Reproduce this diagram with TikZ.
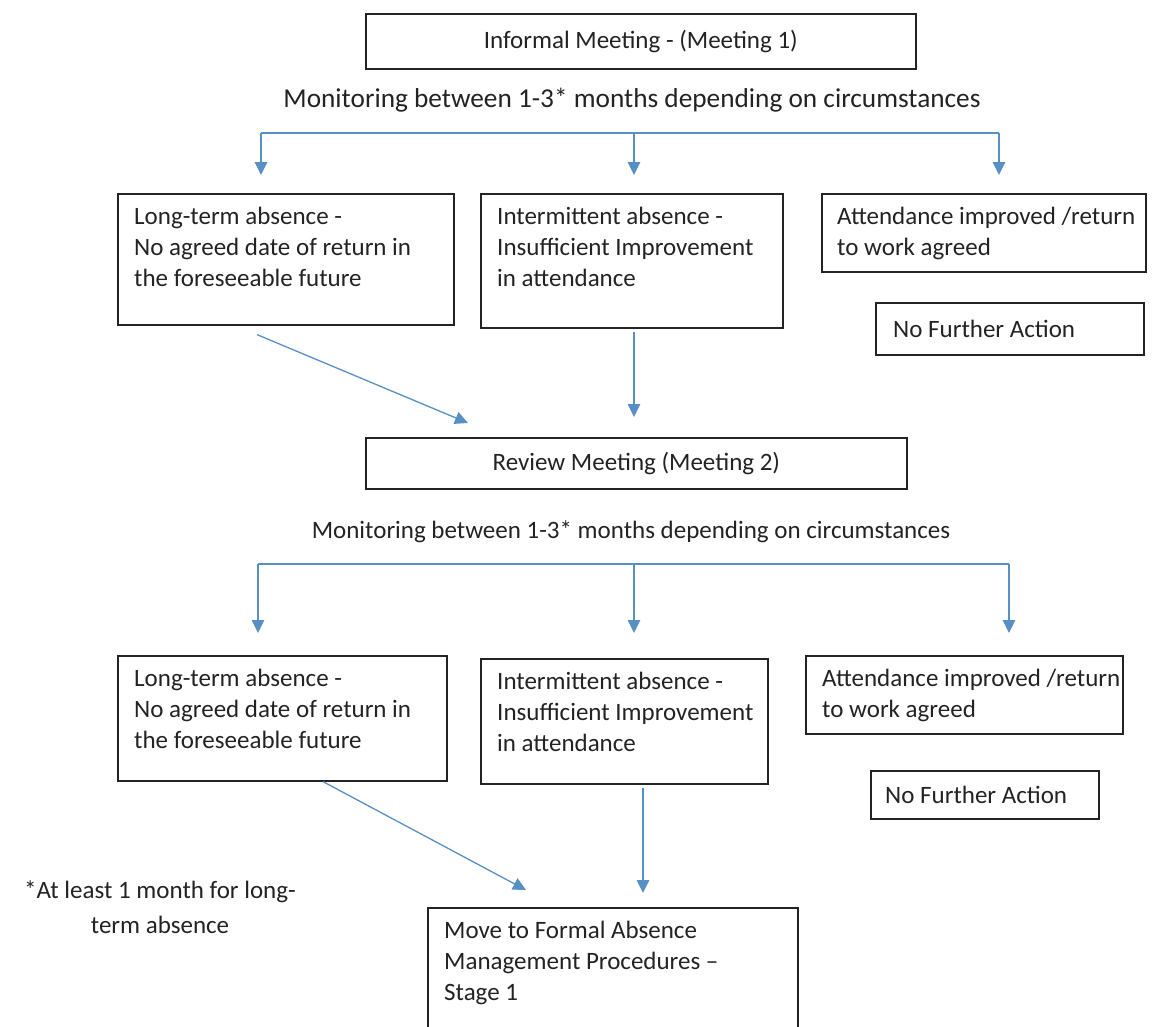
\documentclass[tikz,border=0pt]{standalone}
\usepackage{fontspec}
\setmainfont{Carlito}
\usepackage{xcolor}
\usetikzlibrary{positioning}
\usetikzlibrary{arrows.meta}
\usetikzlibrary{calc}
\usetikzlibrary{math}

\definecolor{flowblue}{RGB}{88,143,196}
\definecolor{inkgray}{RGB}{35,35,35}

\tikzset{
  stagebox/.style={draw=inkgray, line width=1.6pt, anchor=north west, inner sep=0pt},
  boxtext/.style={anchor=north west, align=left, inner sep=0pt, text=inkgray,
    font=\fontsize{25}{31}\selectfont},
  plaintext/.style={inner sep=0pt, text=inkgray, font=\fontsize{25}{31}\selectfont},
  bar/.style={draw=flowblue, line width=1.3pt},
  flow/.style={draw=flowblue, line width=1.3pt, -{Triangle[width=12.5pt,length=13pt]}},
}

\begin{document}
\begin{tikzpicture}[x=1pt,y=-1pt]

  \tikzmath{
    \padx = 17; % left padding of the box texts
    \pady = 14; % top padding of the box texts
  }

  \useasboundingbox (0,0) rectangle (1170,1026);
  \clip (0,0) rectangle (1170,1026);

  % Meeting 1
  \node[stagebox, minimum width=550, minimum height=55] (informal) at (365,13) {};
  \node[plaintext] (informaltxt) at (informal.center) {Informal Meeting - (Meeting 1)};
  \node[plaintext, font=\fontsize{27.3}{33}\selectfont] (monitor1) at (632,100)
    {Monitoring between 1-3* months depending on circumstances};

  % first set of outcomes
  \node[stagebox, minimum width=336, minimum height=131] (long1) at (117,193) {};
  \node[boxtext] (long1txt) at ($(long1.north west)+(\padx,\pady)$)
    {Long-term absence -\\No agreed date of return in\\the foreseeable future};
  \node[stagebox, minimum width=302, minimum height=134] (inter1) at (480,193) {};
  \node[boxtext] (inter1txt) at ($(inter1.north west)+(\padx,\pady)$)
    {Intermittent absence -\\Insufficient Improvement\\in attendance};
  \node[stagebox, minimum width=324, minimum height=78] (improved1) at (821,193) {};
  \node[boxtext] (improved1txt) at ($(improved1.north west)+(16,\pady)$)
    {Attendance improved /return\\to work agreed};
  \node[stagebox, minimum width=268, minimum height=52] (nfa1) at (875,302) {};
  \node[plaintext, anchor=west] (nfa1txt) at ($(nfa1.west)+(18,0)$) {No Further Action};

  % fan out below meeting 1
  \foreach \name/\x in {L/261, M/634, R/999} {
    \coordinate (bar1\name) at (\x,133);
    \coordinate (tip1\name) at (\x,175);
    \draw[flow] (bar1\name) -- (tip1\name);
  }
  \draw[bar] (bar1L) -- (bar1R);

  % Meeting 2
  \node[stagebox, minimum width=541, minimum height=51] (review) at (365,437) {};
  \node[plaintext] (reviewtxt) at (review.center) {Review Meeting (Meeting 2)};
  \node[plaintext] (monitor2) at (631,532)
    {Monitoring between 1-3* months depending on circumstances};

  % into meeting 2
  \coordinate (d1start) at ($(long1.south west)+(140,9)$);
  \coordinate (d1end)   at (468,423);
  \draw[flow] (d1start) -- (d1end);
  \coordinate (v1start) at (634,332);
  \coordinate (v1end)   at (634,417);
  \draw[flow] (v1start) -- (v1end);

  % fan out below meeting 2
  \foreach \name/\x in {L/258, M/634, R/1009} {
    \coordinate (bar2\name) at (\x,564);
    \coordinate (tip2\name) at (\x,633);
    \draw[flow] (bar2\name) -- (tip2\name);
  }
  \draw[bar] (bar2L) -- (bar2R);

  % second set of outcomes
  \node[stagebox, minimum width=329, minimum height=125] (long2) at (117,655) {};
  \node[boxtext] (long2txt) at ($(long2.north west)+(\padx,\pady)$)
    {Long-term absence -\\No agreed date of return in\\the foreseeable future};
  \node[stagebox, minimum width=287, minimum height=125] (inter2) at (480,658) {};
  \node[boxtext] (inter2txt) at ($(inter2.north west)+(\padx,\pady)$)
    {Intermittent absence -\\Insufficient Improvement\\in attendance};
  \node[stagebox, minimum width=317, minimum height=78] (improved2) at (805,655) {};
  \node[boxtext] (improved2txt) at ($(improved2.north west)+(\padx,\pady)$)
    {Attendance improved /return\\to work agreed};
  \node[stagebox, minimum width=228, minimum height=48] (nfa2) at (870,770) {};
  \node[plaintext, anchor=west] (nfa2txt) at ($(nfa2.west)+(15,0)$) {No Further Action};

  % into stage 1
  \coordinate (d2start) at ($(long2.south west)+(206,0)$);
  \coordinate (d2end)   at (526,890);
  \draw[flow] (d2start) -- (d2end);
  \coordinate (v2start) at (643,788);
  \coordinate (v2end)   at (643,893);
  \draw[flow] (v2start) -- (v2end);

  % formal procedures
  \node[stagebox, minimum width=370, minimum height=140] (formal) at (427,907) {};
  \node[boxtext] (formaltxt) at ($(formal.north west)+(\padx,\pady)$)
    {Move to Formal Absence\\Management Procedures –\\Stage 1};

  % footnote
  \node[plaintext, align=center, font=\fontsize{25}{35}\selectfont] (footnote) at (160,907)
    {*At least 1 month for long-\\term absence};

\end{tikzpicture}
\end{document}
